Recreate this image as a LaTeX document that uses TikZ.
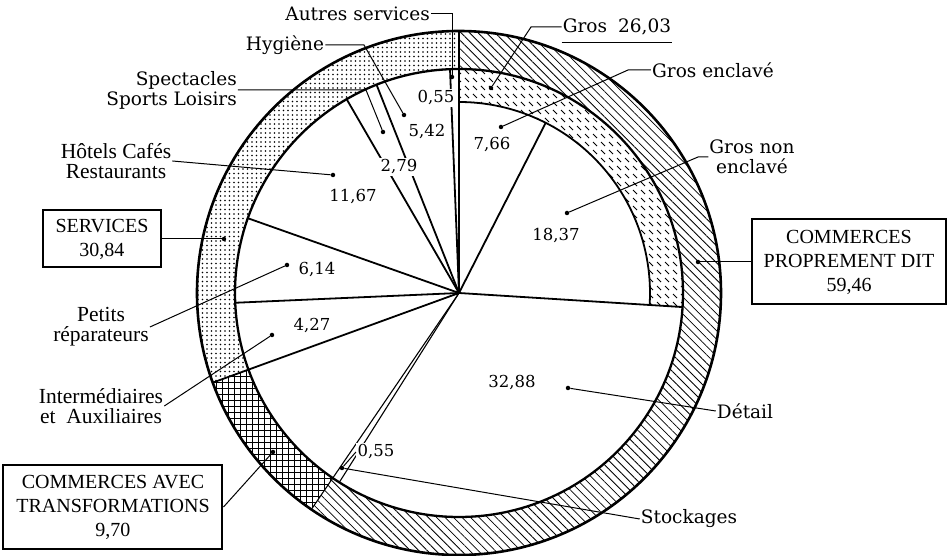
\documentclass[tikz,border=0pt]{standalone}
\usepackage{fontspec}
\setmainfont{Liberation Serif}
\newfontfamily\slabfont{DejaVu Serif}
\usetikzlibrary{patterns,patterns.meta}

\pgfdeclarepatternformonly{gros dashes}{\pgfqpoint{-1pt}{-1pt}}{\pgfqpoint{9pt}{9pt}}{\pgfqpoint{8pt}{8pt}}{%
  \pgfsetlinewidth{0.9pt}%
  \pgfpathmoveto{\pgfqpoint{1pt}{6pt}}%
  \pgfpathlineto{\pgfqpoint{5pt}{2pt}}%
  \pgfusepath{stroke}}

\tikzset{
  ring/.style={line width=2.6pt},
  ray/.style={line width=1.8pt},
  thinray/.style={line width=1.1pt},
  leader/.style={line width=1pt},
  lbl/.style={font=\slabfont\fontsize{18.5}{20}\selectfont, inner sep=1pt, align=center},
  lblrm/.style={font=\fontsize{21.5}{20}\selectfont, inner sep=1pt, align=center},
  val/.style={font=\slabfont\fontsize{16.5}{18}\selectfont, inner sep=1.5pt, fill=white},
  cartouche/.style={draw, line width=2pt, align=center, font=\fontsize{20}{24}\selectfont, inner sep=0pt},
  blob/.style={circle, fill, inner sep=0pt, minimum size=4.5pt},
}

\begin{document}
\begin{tikzpicture}[x=1pt,y=1pt]
\useasboundingbox (-459,-263) rectangle (488,293);
\coordinate (O) at (0,0);

% couronne : services, transformations, commerces
\fill[pattern={Dots[distance=4.5pt,radius=.8pt]}] (90:262pt) arc[start angle=90,end angle=200,radius=262pt] -- (200:224pt) arc[start angle=200,end angle=90,radius=224pt] -- cycle;
\fill[pattern={Hatch[angle=0,distance=6pt,line width=.6pt]}] (200:262pt) arc[start angle=200,end angle=235.7,radius=262pt] -- (235.7:224pt) arc[start angle=235.7,end angle=200,radius=224pt] -- cycle;
\fill[pattern={Lines[angle=-45,distance=6pt,line width=.8pt]}] (-124.3:262pt) arc[start angle=-124.3,end angle=90,radius=262pt] -- (90:224pt) arc[start angle=90,end angle=-124.3,radius=224pt] -- cycle;
% bande du gros
\fill[pattern=gros dashes] (-3.6:191pt) arc[start angle=-3.6,end angle=90,radius=191pt] -- (90:224pt) arc[start angle=90,end angle=-3.6,radius=224pt] -- cycle;

\draw[ring] (O) circle[radius=262pt];
\draw[ring, line width=2.3pt] (O) circle[radius=224pt];
\draw[ray] (-3.6:224pt) -- (-3.6:191pt) arc[start angle=-3.6,end angle=90,radius=191pt];

% rayons
\draw[ray] (O) -- (90:262pt);
\foreach \a in {92.3,111.6,120.1,160.5,182.5} \draw[ray] (O) -- (\a:224pt);
\draw[ray] (O) -- (200:262pt);
\draw[ray] (O) -- (63:191pt);
\draw[ray] (O) -- (-3.6:191pt);
\draw[thinray] (O) -- (-122.3:224pt);
\draw[thinray] (O) -- (-124.3:262pt);

% valeurs
\node[val] (v055a) at (-23,195) {0,55};
\node[val] (v542) at (-32,161) {5,42};
\node[val] (v279) at (-60,126) {2,79};
\node[val] (v1167) at (-106,96) {11,67};
\node[val] (v614) at (-142,23) {6,14};
\node[val] (v427) at (-147,-33) {4,27};
\node[val] (v766) at (33,148) {7,66};
\node[val] (v1837) at (97,57) {18,37};
\node[val] (v3288) at (53,-90) {32,88};
\node[val] (v055b) at (-83,-159) {0,55};

% points
\node[blob] (dAut) at (-7,216) {};
\node[blob] (dHyg) at (-55,178) {};
\node[blob] (dSpec) at (-76,161) {};
\node[blob] (dHot) at (-126,118) {};
\node[blob] (dServ) at (-235,54) {};
\node[blob] (dPet) at (-172,28) {};
\node[blob] (dInt) at (-187,-42) {};
\node[blob] (dCat) at (-186,-159) {};
\node[blob] (dGros) at (32,205) {};
\node[blob] (dGenc) at (42,166) {};
\node[blob] (dGnon) at (108,80) {};
\node[blob] (dCpd) at (239,31) {};
\node[blob] (dDet) at (109,-95) {};
\node[blob] (dSto) at (-117,-175) {};

% libelles
\node[lbl, anchor=east] (aut) at (-28,279) {Autres services};
\node[lbl] (hyg) at (-174,248) {Hygiène};
\node[lbl, anchor=east, align=right] (spec) at (-221,203) {Spectacles\\Sports Loisirs};
\node[lblrm] (hot) at (-343,132) {Hôtels Cafés\\Restaurants};
\node[cartouche, minimum width=118pt, minimum height=57pt] (serv) at (-357,54) {SERVICES\\30,84};
\node[lblrm] (pet) at (-358,-34) {Petits\\réparateurs};
\node[lblrm] (int) at (-358,-113) {Intermédiaires\\et\ \ Auxiliaires};
\node[cartouche, minimum width=219pt, minimum height=84pt] (cat) at (-346,-214) {COMMERCES AVEC\\TRANSFORMATIONS\\9,70};
\node[lbl] (gros) at (158,266) {Gros\hspace{.6em}26,03};
\node[lbl] (genc) at (254,223) {Gros enclavé};
\node[lbl] (gnon) at (293,136) {Gros non\\enclavé};
\node[cartouche, minimum width=194pt, minimum height=85pt] (cpd) at (390,31) {COMMERCES\\PROPREMENT DIT\\59,46};
\node[lbl] (det) at (286,-118) {Détail};
\node[lbl] (sto) at (230,-226) {Stockages};

% traits de rappel
\draw[leader, line width=1.4pt] ([yshift=-6pt]gros.south west) -- ([yshift=-6pt]gros.south east);
\draw[leader] (aut.east) -| (dAut);
\draw[leader] (hyg.east) -- (-95,248) -- (dHyg);
\draw[leader] (spec.east) -- (-93,203) -- (dSpec);
\draw[leader] (hot.east) -- (dHot);
\draw[leader] (serv.east) -- (dServ);
\draw[leader] (pet.east) -- (dPet);
\draw[leader] (int.east) -- (dInt);
\draw[leader] (cat.east) -- (dCat);
\draw[leader] (gros.west) -- (72,266) -- (dGros);
\draw[leader] (genc.west) -- (169,223) -- (dGenc);
\draw[leader] (gnon.west) -- (239,136) -- (dGnon);
\draw[leader] (cpd.west) -- (dCpd);
\draw[leader] (det.west) -- (dDet);
\draw[leader] (sto.west) -- (dSto);
\draw[leader] (dSto) -- (v055b.west);
\end{tikzpicture}
\end{document}
